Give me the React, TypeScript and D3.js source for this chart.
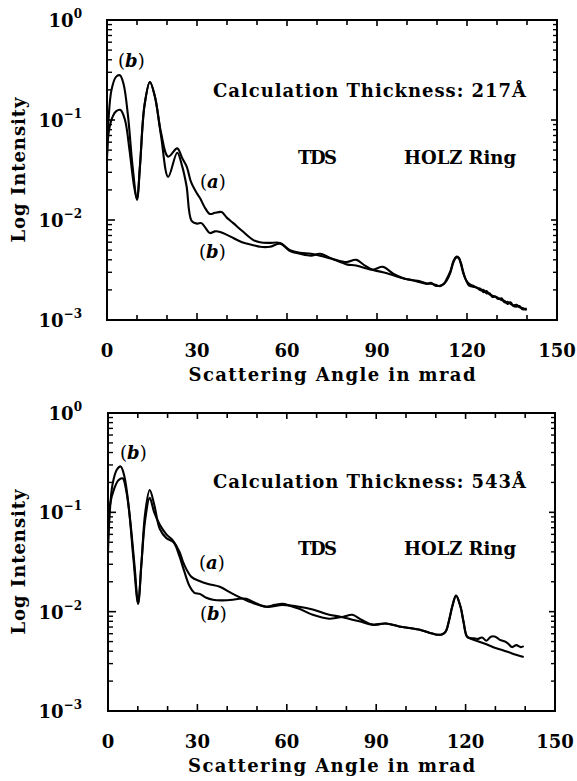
import React from 'react';
import * as d3 from 'd3';

// ---------- axis ticks ----------
const xMajorTicks = [0, 30, 60, 90, 120, 150];
const xMinorTicks = [10, 20, 40, 50, 70, 80, 100, 110, 130, 140];
const yDecadeExps = [0, -1, -2, -3];
const yDecadeLabels = ['0', '−1', '−2', '−3'];

// ---------- panel 1 : 217 Å ----------
const angleTopA = [0, 0.7, 2, 3, 4.5, 6, 7.5, 9, 10, 11, 12.5, 14.3, 16, 18, 20.4, 23.4, 25, 26.6, 28, 29.9, 31, 32.5, 34.3, 36, 38.2, 40, 42.1, 45, 48.8, 51, 54, 57.7, 61, 64.3, 68, 71, 75, 79.9, 83, 86, 88.5, 92, 95.4, 99,
  102, 104, 106.6, 108, 109.5, 111, 112.3, 113.3, 114.5, 115.5, 116.4, 117.2, 118, 118.8, 119.7, 120.7, 122, 123.3, 124.5, 125.5, 126.5, 127.5, 128.5, 129.5, 130.5, 131.5, 132.5, 133.5, 134.5, 135.5, 136.5, 137.5, 138.5, 139.9];
const intensityTopA = [0.045, 0.08, 0.11, 0.122, 0.126, 0.1, 0.05, 0.022, 0.016, 0.035, 0.14, 0.24, 0.17, 0.075, 0.043, 0.052, 0.042, 0.034, 0.024, 0.0186, 0.0166, 0.0135, 0.0115, 0.0118, 0.012, 0.0105, 0.0093, 0.0078, 0.0063, 0.006, 0.0059, 0.0059, 0.005, 0.0047, 0.0046, 0.0044, 0.0041, 0.0038, 0.004, 0.0035, 0.0032, 0.0034, 0.0029, 0.0026,
  0.0025, 0.00245, 0.00232, 0.0023, 0.00225, 0.00218, 0.0023, 0.0026, 0.0031, 0.0039, 0.0043, 0.0042, 0.0036, 0.0029, 0.0025, 0.0022, 0.00215, 0.0021, 0.00198, 0.002, 0.00185, 0.00185, 0.0017, 0.00172, 0.00165, 0.00158, 0.00155, 0.00145, 0.0015, 0.00138, 0.00136, 0.00138, 0.00128, 0.0013];

const angleTopB = [0, 0.5, 1.5, 3, 4.3, 5.5, 7, 8.5, 10, 11, 12.5, 14.3, 16, 18, 20.4, 23.4, 25, 26.5, 28.2, 30, 31.5, 33, 34.3, 36, 37.7, 40, 42.1, 45, 48.8, 51, 54.3, 57.7, 61, 64.3, 68, 71, 75, 79.9, 83, 87.7, 92, 95.4, 99,
  102, 104, 106.6, 108, 109.5, 111, 112.3, 113.3, 114.5, 115.5, 116.4, 117.2, 118, 118.8, 119.7, 120.7, 122, 123.3, 124.5, 125.5, 126.5, 127.5, 128.5, 129.5, 130.5, 131.5, 132.5, 133.5, 134.5, 135.5, 136.5, 137.5, 138.5, 139.9];
const intensityTopB = [0.04, 0.1, 0.2, 0.27, 0.28, 0.23, 0.11, 0.035, 0.016, 0.035, 0.14, 0.24, 0.17, 0.07, 0.027, 0.047, 0.035, 0.022, 0.0098, 0.0092, 0.0093, 0.0082, 0.0074, 0.0077, 0.0076, 0.0071, 0.0066, 0.006, 0.0056, 0.0054, 0.0054, 0.0058, 0.0049, 0.0046, 0.0044, 0.0046, 0.0041, 0.0036, 0.0035, 0.0032, 0.003, 0.0028, 0.0026,
  0.0025, 0.0024, 0.0023, 0.00235, 0.0022, 0.0022, 0.0023, 0.0025, 0.003, 0.0038, 0.0042, 0.0042, 0.0037, 0.003, 0.0025, 0.0023, 0.0022, 0.0021, 0.00205, 0.0019, 0.00195, 0.0018, 0.00175, 0.0017, 0.00162, 0.00165, 0.0015, 0.00152, 0.00145, 0.0014, 0.00142, 0.00134, 0.00132, 0.00126];

// ---------- panel 2 : 543 Å ----------
const angleBotA = [0, 0.7, 2, 3.5, 4.9, 6.2, 7.5, 9, 10.1, 11.2, 12.5, 14, 15.5, 17.4, 19.6, 21.8, 24, 25.5, 28, 30.5, 33.6, 37.5, 41.9, 47.5, 53.1, 58.6, 64.2, 68.7, 74.2, 78, 82, 85, 88.7, 93.2, 97.7, 104.3, 109.9, 112, 113.3, 114.5, 115.5, 116.8, 118.3, 119.3, 120.5, 122, 122.8, 124, 125.5, 127, 128.5, 130, 131.5, 133.3, 134.5, 135.6, 137, 138.5, 139.5];
const intensityBotA = [0.05, 0.12, 0.17, 0.21, 0.22, 0.16, 0.08, 0.027, 0.012, 0.03, 0.085, 0.14, 0.1, 0.075, 0.06, 0.052, 0.04, 0.03, 0.0224, 0.0205, 0.019, 0.0178, 0.0151, 0.0126, 0.0112, 0.0117, 0.0112, 0.0105, 0.0093, 0.0089, 0.0083, 0.0079, 0.0074, 0.0076, 0.0071, 0.0066, 0.0059, 0.0059, 0.0063, 0.0083, 0.0112, 0.0145, 0.0112, 0.0079, 0.0056, 0.0054, 0.0054, 0.0053, 0.0055, 0.0051, 0.0056, 0.0056, 0.0052, 0.005, 0.0047, 0.0044, 0.0046, 0.0044, 0.0045];

const angleBotB = [0, 0.5, 1.5, 3, 4.25, 5.5, 7, 8.5, 10.1, 11.2, 12.5, 14, 15.5, 17.4, 19.6, 22, 24, 25.5, 27.4, 29, 30.8, 33, 35.2, 38, 41.9, 44, 46.4, 48.7, 51, 53.1, 56, 58.6, 61, 64.2, 68.7, 74.2, 79, 82, 85, 88.7, 93.2, 97.7, 104.3, 109.9, 112, 113.3, 114.5, 115.5, 116.8, 118.3, 119.3, 120.5, 122, 124.4, 127, 130, 132.5, 135.6, 139.5];
const intensityBotB = [0.04, 0.09, 0.19, 0.27, 0.29, 0.23, 0.11, 0.035, 0.012, 0.03, 0.1, 0.168, 0.12, 0.068, 0.055, 0.05, 0.036, 0.026, 0.018, 0.0155, 0.0151, 0.0138, 0.0132, 0.013, 0.0132, 0.0135, 0.0135, 0.0125, 0.0117, 0.0112, 0.0117, 0.012, 0.0115, 0.0107, 0.0093, 0.0085, 0.0089, 0.0093, 0.0083, 0.0074, 0.0076, 0.0071, 0.0066, 0.0059, 0.0059, 0.0063, 0.0083, 0.0112, 0.0145, 0.0112, 0.0079, 0.0056, 0.0053, 0.005, 0.0047, 0.0043, 0.0041, 0.0038, 0.0035];

const thicknessLabels = ['217', '543'];

const FONT = "'DejaVu Serif', serif";
const FS = 18;

type PanelProps = {
  left: number; right: number; top: number; bottom: number;
  xa: number[]; ya: number[]; xb: number[]; yb: number[];
  thickness: string;
  calcY: number; tdsY: number; aPos: [number, number]; bUpPos: [number, number]; bLowPos: [number, number];
};

function Panel(p: PanelProps) {
  const x = d3.scaleLinear().domain([0, 150]).range([p.left, p.right]);
  const y = d3.scaleLog().domain([1e-3, 1]).range([p.bottom, p.top]);
  const line = d3.line<[number, number]>()
    .x(d => x(d[0]))
    .y(d => y(d[1]))
    .curve(d3.curveCatmullRom.alpha(0.5));
  const seriesA = p.xa.map((v, i) => [v, p.ya[i]] as [number, number]);
  const seriesB = p.xb.map((v, i) => [v, p.yb[i]] as [number, number]);

  const minorY: number[] = [];
  yDecadeExps.slice(1).forEach(e => {
    for (let m = 2; m <= 9; m++) minorY.push(m * Math.pow(10, e));
  });

  const midY = (p.top + p.bottom) / 2;
  const midX = (p.left + p.right) / 2;

  return (
    <g>
      <path d={line(seriesA) || ''} fill="none" stroke="#000" strokeWidth={2.1} strokeLinejoin="round" />
      <path d={line(seriesB) || ''} fill="none" stroke="#000" strokeWidth={2.1} strokeLinejoin="round" />
      <rect x={p.left} y={p.top} width={p.right - p.left} height={p.bottom - p.top} fill="none" stroke="#000" strokeWidth={2} />
      {xMajorTicks.map(t => (
        <g key={'xM' + t}>
          <line x1={x(t)} x2={x(t)} y1={p.bottom} y2={p.bottom - 7} stroke="#000" strokeWidth={1.6} />
          <line x1={x(t)} x2={x(t)} y1={p.top} y2={p.top + 6} stroke="#000" strokeWidth={1.6} />
          <text x={x(t)} y={p.bottom + 37} textAnchor="middle" fontSize={FS} fontFamily={FONT} fontWeight="bold">{t}</text>
        </g>
      ))}
      {xMinorTicks.map(t => (
        <g key={'xm' + t}>
          <line x1={x(t)} x2={x(t)} y1={p.bottom} y2={p.bottom - 5} stroke="#000" strokeWidth={1.6} />
          <line x1={x(t)} x2={x(t)} y1={p.top} y2={p.top + 5} stroke="#000" strokeWidth={1.6} />
        </g>
      ))}
      {yDecadeExps.map((e, i) => {
        const yy = y(Math.pow(10, e));
        return (
          <g key={'yd' + e}>
            <line x1={p.left} x2={p.left + 8} y1={yy} y2={yy} stroke="#000" strokeWidth={1.6} />
            <line x1={p.right} x2={p.right - 6} y1={yy} y2={yy} stroke="#000" strokeWidth={1.6} />
            <text x={82} y={yy + 7} textAnchor="end" fontSize={FS} fontFamily={FONT} fontWeight="bold">10<tspan dy={-9} fontSize={12}>{yDecadeLabels[i]}</tspan></text>
          </g>
        );
      })}
      {minorY.map((v, i) => (
        <g key={'ym' + i}>
          <line x1={p.left} x2={p.left + 5} y1={y(v)} y2={y(v)} stroke="#000" strokeWidth={1.4} />
          <line x1={p.right} x2={p.right - 4} y1={y(v)} y2={y(v)} stroke="#000" strokeWidth={1.4} />
        </g>
      ))}
      <text x={midX} y={p.bottom + 61} textAnchor="middle" fontSize={FS} fontFamily={FONT} fontWeight="bold" textLength={287} lengthAdjust="spacing">Scattering Angle in mrad</text>
      <text transform={`translate(25,${midY}) rotate(-90)`} textAnchor="middle" fontSize={FS} fontFamily={FONT} fontWeight="bold" textLength={145} lengthAdjust="spacing">Log Intensity</text>
      <text x={213} y={p.calcY} fontSize={FS} fontFamily={FONT} fontWeight="bold" textLength={313} lengthAdjust="spacing">Calculation Thickness: {p.thickness}Å</text>
      <text x={298} y={p.tdsY} fontSize={FS} fontFamily={FONT} fontWeight="bold" textLength={39} lengthAdjust="spacing">TDS</text>
      <text x={404} y={p.tdsY} fontSize={FS} fontFamily={FONT} fontWeight="bold" textLength={112} lengthAdjust="spacing">HOLZ Ring</text>
      <text x={p.aPos[0]} y={p.aPos[1]} fontSize={FS} fontFamily={FONT}>(<tspan fontStyle="italic" fontWeight="bold">a</tspan>)</text>
      <text x={p.bUpPos[0]} y={p.bUpPos[1]} fontSize={FS} fontFamily={FONT}>(<tspan fontStyle="italic" fontWeight="bold">b</tspan>)</text>
      <text x={p.bLowPos[0]} y={p.bLowPos[1]} fontSize={FS} fontFamily={FONT}>(<tspan fontStyle="italic" fontWeight="bold">b</tspan>)</text>
    </g>
  );
}

export default function App() {
  return (
    <svg width={577} height={781} viewBox="0 0 577 781" style={{ position: 'absolute', left: 0, top: 0, background: '#fff' }}>
      <rect x={0} y={0} width={577} height={781} fill="#fff" />
      <Panel left={107} right={557} top={20} bottom={320}
        xa={angleTopA} ya={intensityTopA} xb={angleTopB} yb={intensityTopB}
        thickness={thicknessLabels[0]}
        calcY={97} tdsY={164} aPos={[200, 188]} bUpPos={[118, 67]} bLowPos={[199, 258]} />
      <Panel left={108} right={555} top={413} bottom={711}
        xa={angleBotA} ya={intensityBotA} xb={angleBotB} yb={intensityBotB}
        thickness={thicknessLabels[1]}
        calcY={488} tdsY={555} aPos={[199, 569]} bUpPos={[120, 459]} bLowPos={[200, 620]} />
    </svg>
  );
}
